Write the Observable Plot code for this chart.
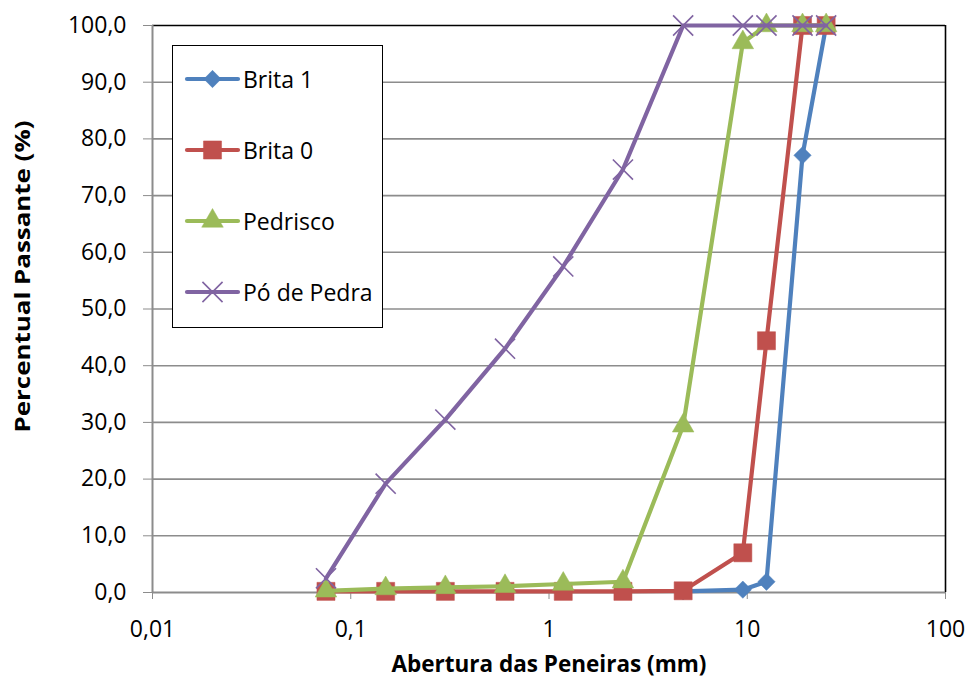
<!DOCTYPE html>
<html>
<head>
<meta charset="utf-8">
<script src="https://cdn.jsdelivr.net/npm/d3@7"></script>
<script src="https://cdn.jsdelivr.net/npm/@observablehq/plot@0.6"></script>
<style>
  body { margin: 0; background: #fff; }
  #wrap { position: relative; width: 971px; height: 680px; font-family: "Open Sans", sans-serif; }
  #legend { position: absolute; left: 172px; top: 45px; width: 211px; height: 283px; border: 1.5px solid #000; background: #fff; box-sizing: border-box; }
  .item { position: absolute; left: 0; height: 30px; display: flex; align-items: center; font-size: 23px; color: #000; }
  .item svg { margin-left: 11px; margin-right: 2px; }
</style>
</head>
<body>
<div id="wrap"></div>
<script>
const sieves = [0.075, 0.15, 0.3, 0.6, 1.18, 2.36, 4.75, 9.5, 12.5, 19, 25];
const brita1 = [null, null, null, null, null, null, 0.2, 0.5, 1.9, 77.1, 100];
const brita0 = [0.2, 0.2, 0.2, 0.2, 0.2, 0.2, 0.3, 7.0, 44.4, 100, 100];
const pedrisco = [0.3, 0.7, 0.9, 1.1, 1.5, 1.9, 29.4, 97.0, 100, 100, 100];
const poDePedra = [2.5, 19.2, 30.5, 43.0, 57.5, 74.6, 100, 100, 100, 100, 100];
const seriesNames = ["Brita 1", "Brita 0", "Pedrisco", "Pó de Pedra"];
const seriesColors = ["#4F81BD", "#C0504D", "#9BBB59", "#8064A2"];
const seriesSymbols = ["diamond2", "square2", "triangle2", "times"];
const yTicks = [0, 10, 20, 30, 40, 50, 60, 70, 80, 90, 100];
const xTicks = [0.01, 0.1, 1, 10, 100];
const xTickLabels = ["0,01", "0,1", "1", "10", "100"];
const yTitle = "Percentual Passante (%)";
const xTitle = "Abertura das Peneiras (mm)";

const allValues = [brita1, brita0, pedrisco, poDePedra];
const series = seriesNames.map((name, i) =>
  sieves.map((s, j) => ({name, x: s, y: allValues[i][j]})).filter(d => d.y != null)
);
const symbolR = [7.8, 11.5, 10.3, 9.2];
const symbolStroke = [0.5, 0.5, 0.5, 1.6];

const marks = [
  Plot.gridY(yTicks.filter(t => t > 0 && t < 100), {stroke: "#8c8c8c", strokeOpacity: 1, strokeWidth: 1.6}),
  Plot.ruleY([100], {stroke: "#000", strokeWidth: 1.6}),
  Plot.ruleX([100], {stroke: "#000", strokeWidth: 1.6}),
  Plot.ruleX([0.01], {stroke: "#8c8c8c", strokeWidth: 2}),
  Plot.ruleY([0], {stroke: "#8c8c8c", strokeWidth: 2}),
  Plot.axisY({ticks: yTicks, tickSize: 9, tickPadding: 17, tickFormat: d => d3.format(".1f")(d).replace(".", ","), label: null, fontSize: 23, stroke: "#8c8c8c"}),
  Plot.axisX({ticks: xTicks, tickSize: 7, tickPadding: 21, tickFormat: d => xTickLabels[xTicks.indexOf(d)], label: null, fontSize: 23, stroke: "#8c8c8c"}),
  Plot.text([yTitle], {frameAnchor: "left", dx: -130, dy: 123.5, rotate: -90, textAnchor: "start", fontSize: 22, fontWeight: "bold", fill: "#000"}),
  Plot.text([xTitle], {frameAnchor: "bottom", dy: 79, fontSize: 22.5, fontWeight: "bold", fill: "#000"})
];
series.forEach((data, i) => {
  marks.push(Plot.line(data, {x: "x", y: "y", stroke: seriesColors[i], strokeWidth: 4.2}));
  marks.push(Plot.dot(data, {x: "x", y: "y", symbol: seriesSymbols[i], r: symbolR[i], fill: seriesColors[i], stroke: seriesColors[i], strokeWidth: symbolStroke[i]}));
});

const chart = Plot.plot({
  width: 971,
  height: 680,
  marginLeft: 152,
  marginRight: 26,
  marginTop: 25,
  marginBottom: 88,
  style: {fontFamily: "'Open Sans', sans-serif", fontSize: "23px", color: "#000", background: "#fff"},
  x: {type: "log", domain: [0.01, 100]},
  y: {domain: [0, 100]},
  marks
});
const wrap = document.getElementById("wrap");
wrap.appendChild(chart);
// stretch the rotated y title to the reference's length
d3.select(chart).selectAll("text").filter(function() { return this.textContent === yTitle; })
  .attr("textLength", 312).attr("lengthAdjust", "spacingAndGlyphs");

// legend
const legend = document.createElement("div");
legend.id = "legend";
seriesNames.forEach((name, i) => {
  const it = document.createElement("div");
  it.className = "item";
  it.style.top = (18 + i * 71) + "px";
  const c = seriesColors[i];
  const symType = {diamond2: d3.symbolDiamond2, square2: d3.symbolSquare2, triangle2: d3.symbolTriangle2, times: d3.symbolTimes}[seriesSymbols[i]];
  const p = d3.symbol(symType, symbolR[i] * symbolR[i] * Math.PI)();
  it.innerHTML = `<svg width="57" height="30"><line x1="3" y1="15" x2="54" y2="15" stroke="${c}" stroke-width="4.2" stroke-linecap="round"/><path transform="translate(28.5,15)" d="${p}" fill="${c}" stroke="${c}" stroke-width="${symbolStroke[i]}"/></svg><span>${name}</span>`;
  legend.appendChild(it);
});
wrap.appendChild(legend);
</script>
</body>
</html>
